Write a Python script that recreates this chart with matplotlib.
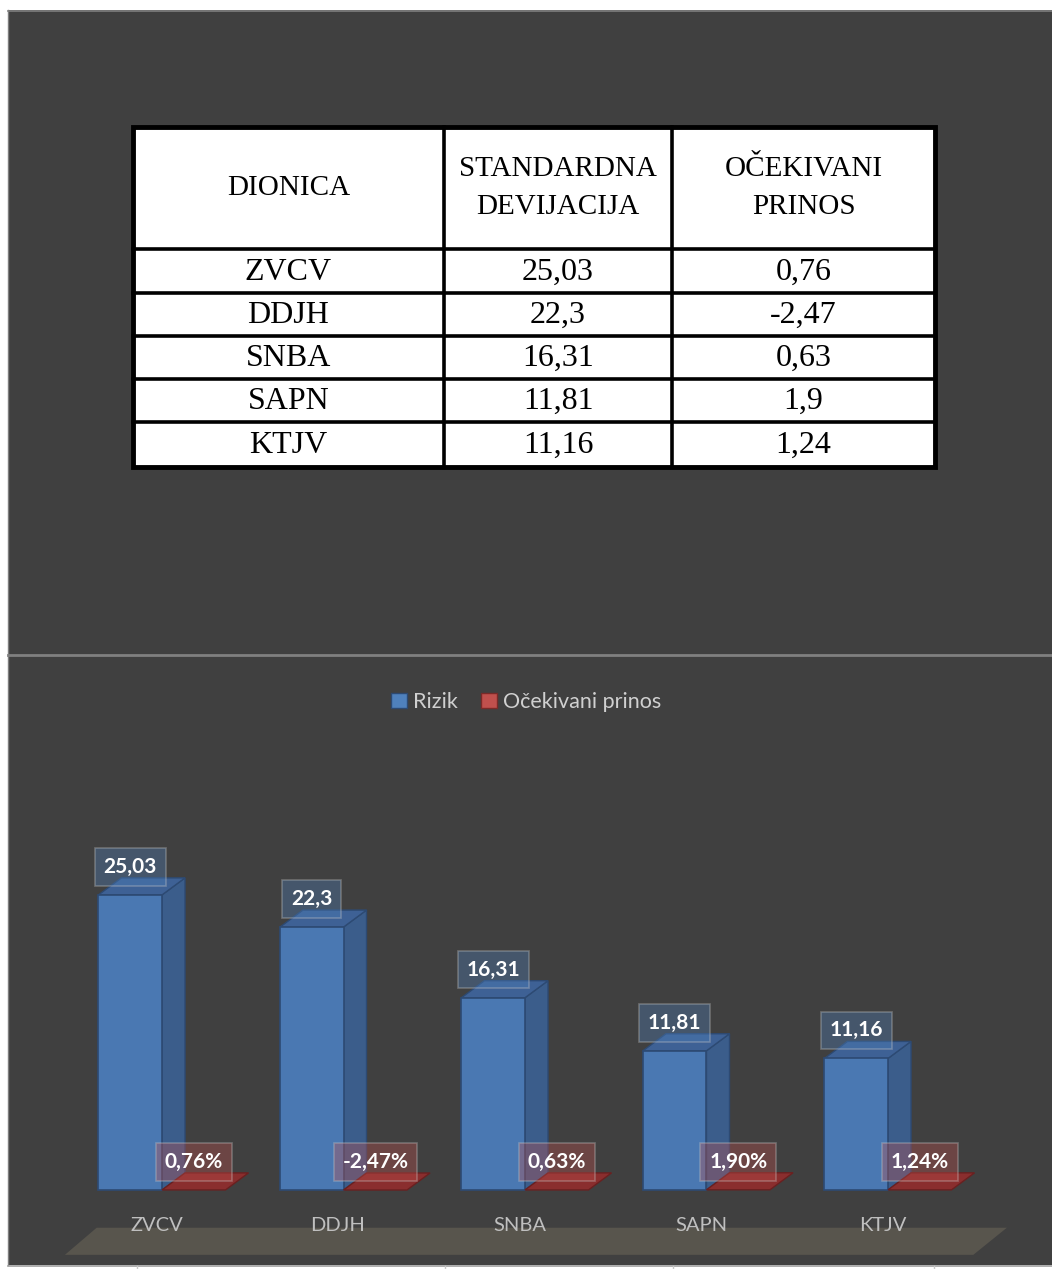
import matplotlib

matplotlib.use("Agg")
import matplotlib.pyplot as plt
from matplotlib.patches import Polygon, Rectangle, Patch

# table / chart data
stocks = ["ZVCV", "DDJH", "SNBA", "SAPN", "KTJV"]
std_dev = [25.03, 22.3, 16.31, 11.81, 11.16]
exp_return = [0.76, -2.47, 0.63, 1.9, 1.24]  # percent
table_header = ["DIONICA", "STANDARDNA\nDEVIJACIJA", "OČEKIVANI\nPRINOS"]
series_names = ["Rizik", "Očekivani prinos"]

W, H = 1052, 1269
BG = "#404040"
BLUE_FRONT = "#4a78b2"
BLUE_SIDE = "#3b5d8b"
BLUE_TOP = "#3e6195"
BLUE_EDGE = "#2d4a73"
RED_TOP = "#8a2e2e"
RED_EDGE = "#6a2020"


def comma(v):
    return str(v).replace(".", ",")


fig = plt.figure(figsize=(W / 100, H / 100), dpi=100)
fig.patch.set_facecolor("white")

# page-level axes in pixel coordinates (background, table, separators)
bg = fig.add_axes([0, 0, 1, 1])
bg.set_xlim(0, W)
bg.set_ylim(H, 0)
bg.axis("off")
bg.add_patch(Rectangle((8, 10), W - 8, 1255, facecolor=BG, edgecolor="none"))
bg.plot([8, W], [10.5, 10.5], color="#7f7f7f", lw=1.2)
bg.plot([8, W], [655, 655], color="#808080", lw=2)
bg.plot([8, 8], [10, 1265], color="#7f7f7f", lw=1)
bg.plot([8, W], [1265.5, 1265.5], color="#a0a0a0", lw=1.2)
for xt in [137, 445, 673, 934]:
    bg.plot([xt, xt], [1266, H], color="#c8c8c8", lw=1)

# table
col_x = [133, 444, 672, 935]
row_y = [127, 249, 293, 336, 379, 422, 467]
bg.add_patch(Rectangle((col_x[0], row_y[0]), col_x[-1] - col_x[0], row_y[-1] - row_y[0],
                       facecolor="white", edgecolor="black", lw=3.5, zorder=2))
for x in col_x[1:-1]:
    bg.plot([x, x], [row_y[0], row_y[-1]], color="black", lw=2.6, zorder=3)
for y in row_y[1:-1]:
    bg.plot([col_x[0], col_x[-1]], [y, y], color="black", lw=2.6, zorder=3)

serif = ["Liberation Serif", "DejaVu Serif"]
for j, text in enumerate(table_header):
    cx = (col_x[j] + col_x[j + 1]) / 2
    cy = (row_y[0] + row_y[1]) / 2
    bg.text(cx, cy, text, ha="center", va="center", fontsize=21, family=serif,
            linespacing=1.55, zorder=4)
for i, name in enumerate(stocks):
    cy = (row_y[i + 1] + row_y[i + 2]) / 2 + 1
    cells = [name, comma(std_dev[i]), comma(exp_return[i])]
    for j, text in enumerate(cells):
        cx = (col_x[j] + col_x[j + 1]) / 2
        bg.text(cx, cy, text, ha="center", va="center", fontsize=23, family=serif, zorder=4)

# chart axes: category index on x, value on y
px_per_cat = 181.5
px_per_unit = 11.79
x0_px, base_px = 162, 1190
xmin, xmax = -0.5, 4.5
ymin, ymax = -6, 30
left = (x0_px + xmin * px_per_cat) / W
width = (xmax - xmin) * px_per_cat / W
bottom = (H - (base_px - ymin * px_per_unit)) / H
height = (ymax - ymin) * px_per_unit / H
ax = fig.add_axes([left, bottom, width, height])
ax.set_xlim(xmin, xmax)
ax.set_ylim(ymin, ymax)
ax.axis("off")
ax.patch.set_alpha(0)

bar_w = 0.35
dx, dy = 23 / px_per_cat, 17 / px_per_unit
lab_off = 28 / px_per_unit
sans = ["Lato", "DejaVu Sans"]

# floor
ax.add_patch(Polygon([(-0.535, -5.5), (4.47, -5.5), (4.655, -3.2), (-0.36, -3.2)],
                     closed=True, facecolor="#58554d", edgecolor="none", zorder=1,
                     clip_on=False))

for i, (v, r) in enumerate(zip(std_dev, exp_return)):
    bl, br = i - bar_w, i
    # blue 3D column
    ax.add_patch(Polygon([(br, 0), (br + dx, dy), (br + dx, v + dy), (br, v)],
                         facecolor=BLUE_SIDE, edgecolor=BLUE_EDGE, lw=1, zorder=3))
    ax.add_patch(Polygon([(bl, v), (bl + dx, v + dy), (br + dx, v + dy), (br, v)],
                         facecolor=BLUE_TOP, edgecolor=BLUE_EDGE, lw=1, zorder=3))
    ax.add_patch(Rectangle((bl, 0), bar_w, v, facecolor=BLUE_FRONT,
                           edgecolor=BLUE_EDGE, lw=1.2, zorder=4))
    # red (percent values on the same axis are almost flat)
    rv = r / 100
    rl, rr = i, i + bar_w
    top = max(rv, 0)
    ax.add_patch(Polygon([(rl, top), (rl + dx, top + dy), (rr + dx, top + dy), (rr, top)],
                         facecolor=RED_TOP, edgecolor=RED_EDGE, lw=1, zorder=5))
    # data labels
    ax.text(i - bar_w / 2, v + lab_off, comma(v), ha="center", va="center",
            fontsize=15, fontweight="bold", color="white", family=sans, zorder=7,
            bbox=dict(boxstyle="square,pad=0.42", facecolor="#4f81bd", alpha=0.35,
                      edgecolor="#c8c8c8", lw=1.2))
    ax.text(i + bar_w / 2, top + lab_off, f"{r:.2f}%".replace(".", ","), ha="center",
            va="center", fontsize=15, fontweight="bold", color="white", family=sans,
            zorder=7, bbox=dict(boxstyle="square,pad=0.42", facecolor="#c0504d",
                                alpha=0.35, edgecolor="#c8c8c8", lw=1.2))
    ax.text(i - 0.03, -3.0, stocks[i], ha="center", va="center", fontsize=14.5,
            color="#bfbfbf", family=sans, zorder=6)

handles = [Patch(facecolor="#4f81bd", edgecolor="#2d4a73"),
           Patch(facecolor="#c0504d", edgecolor="#7a2a28")]
leg = fig.legend(handles, series_names, loc="center", bbox_to_anchor=(526 / W, 1 - 702 / H),
                 ncol=2, frameon=False, handlelength=0.75, handleheight=0.75,
                 handletextpad=0.25, columnspacing=1.1,
                 prop={"family": sans, "size": 15.5})
for t in leg.get_texts():
    t.set_color("#d0d0d0")

fig.savefig("out.png", dpi=100)
